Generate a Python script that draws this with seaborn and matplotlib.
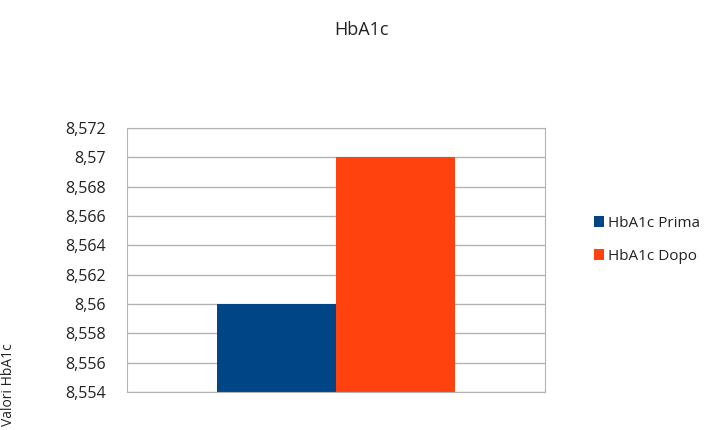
import pandas as pd
import numpy as np
import matplotlib.pyplot as plt
import seaborn as sns
from matplotlib.ticker import FuncFormatter, MultipleLocator
from matplotlib.patches import Patch

# -------------------
# Data
series = ["HbA1c Prima", "HbA1c Dopo"]
values = [8.56, 8.57]
colors = ["#004586", "#ff420e"]

df = pd.DataFrame({"group": [""] * len(series), "serie": series, "valore": values})

# -------------------
# Plot
sns.set_style("white")
plt.rcParams['font.family'] = ['Open Sans', 'DejaVu Sans']

fig = plt.figure(figsize=(7.22, 4.30), dpi=100)
ax = fig.add_axes([127 / 722, 1 - 392 / 430, (545 - 127) / 722, (392 - 128) / 430])

sns.barplot(data=df, x="group", y="valore", hue="serie", palette=colors,
            width=0.57, ax=ax, legend=False, saturation=1)

ax.set_ylim(8.554, 8.572)
ax.yaxis.set_major_locator(MultipleLocator(0.002))
ax.yaxis.set_major_formatter(FuncFormatter(lambda v, p: f"{v:.3f}".rstrip("0").replace(".", ",")))
ax.grid(axis="y", color="#b3b3b3", linewidth=1)
ax.set_axisbelow(True)
for s in ax.spines.values():
    s.set_color("#b3b3b3")
ax.set_xticks([])
ax.set_xlabel("")
ax.set_ylabel("")
ax.tick_params(axis="y", labelsize=11.5, colors="#222222", length=0, pad=15)
for p in ax.patches:
    p.set_edgecolor("none")

fig.text(0.5, 1 - 30 / 430, "HbA1c", ha="center", va="center", fontsize=13, color="#222222")
fig.text(9 / 722, 1 - 385 / 430, "Valori HbA1c", rotation=90, ha="center", va="center",
         fontsize=10, color="#222222")

handles = [Patch(facecolor=c, edgecolor="none") for c in colors]
fig.legend(handles, series, loc="center left", bbox_to_anchor=(580 / 722, 1 - 240 / 430),
           frameon=False, fontsize=11, handlelength=0.7, handleheight=0.7,
           handletextpad=0.25, labelspacing=1.2, labelcolor="#222222")

fig.savefig("out.png", dpi=100)
